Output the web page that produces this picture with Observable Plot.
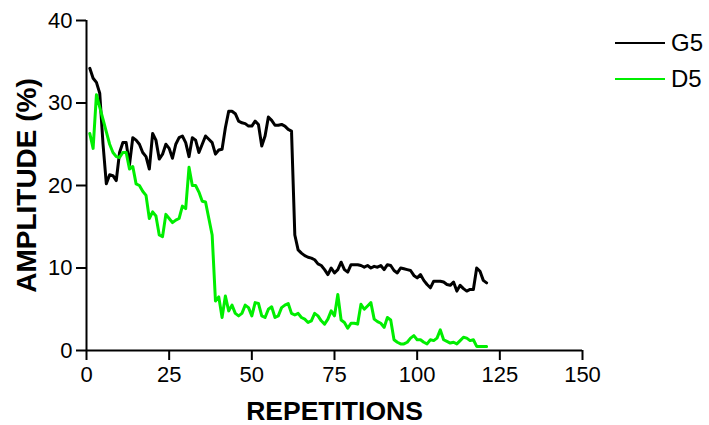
<!DOCTYPE html>
<html>
<head>
<meta charset="utf-8">
<script src="https://cdn.jsdelivr.net/npm/d3@7"></script>
<script src="https://cdn.jsdelivr.net/npm/@observablehq/plot@0.6"></script>
<style>
  html, body { margin: 0; padding: 0; background: #fff; }
  #wrap { position: relative; width: 709px; height: 425px; font-family: "Liberation Sans", Arial, sans-serif; }
  #wrap svg text { font-family: "Liberation Sans", Arial, sans-serif; }
  g[aria-label="y-axis label"] text { font-weight: bold; font-size: 28px; }
  g[aria-label="x-axis label"] text { font-weight: bold; font-size: 26.5px; }
  #legend { position: absolute; left: 615px; top: 25px; font-size: 24px; color: #000; }
  #legend .row { display: flex; align-items: center; height: 36px; }
  #legend .sw { width: 50px; height: 2.5px; margin-right: 6px; }
</style>
</head>
<body>
<div id="wrap"></div>
<script>
const seriesNames = ["G5", "D5"];
const seriesColors = ["#000000", "#00ee00"];
const xTicks = [0, 25, 50, 75, 100, 125, 150];
const yTicks = [0, 10, 20, 30, 40];

const g5 = [34.2,33.0,32.5,31.2,25.0,20.2,21.3,21.2,20.6,24.0,25.2,25.2,22.5,25.8,25.5,25.0,24.0,23.5,22.0,26.3,
  25.5,23.2,23.8,25.0,24.5,23.3,25.0,25.8,26.0,25.2,23.5,25.8,25.5,24.0,25.0,26.0,25.6,25.2,23.8,24.3,
  24.4,27.0,29.0,29.0,28.7,27.8,27.6,27.5,27.2,27.2,27.8,27.4,24.8,26.0,28.3,27.9,27.3,27.3,27.4,27.2,
  26.8,26.6,14.0,12.2,11.8,11.5,11.3,11.2,11.0,10.5,10.3,9.8,9.2,10.0,9.4,9.8,10.7,9.8,9.5,10.4,
  10.4,10.4,10.3,10.1,10.3,10.0,10.2,10.1,10.3,9.8,10.4,10.3,9.7,9.4,10.0,9.9,9.8,9.7,9.1,8.8,
  9.2,8.5,8.0,7.6,8.4,8.4,8.4,8.3,8.0,7.9,8.3,7.2,7.9,7.5,7.2,7.4,7.4,10.0,9.6,8.5,8.2];

const d5 = [26.3,24.5,31.0,29.5,28.0,26.5,25.0,24.0,23.5,23.4,24.0,24.0,22.0,22.3,20.2,20.0,19.3,18.8,16.0,16.8,
  16.3,14.0,13.8,16.5,16.0,15.5,15.8,16.0,17.5,17.2,22.2,20.0,20.0,19.2,18.1,18.0,16.0,14.0,6.0,6.5,
  4.0,6.6,4.8,5.5,4.5,4.2,4.5,5.5,5.2,4.2,5.8,5.7,4.2,4.0,5.0,5.3,4.0,4.2,5.2,5.5,
  5.7,4.5,4.3,4.5,4.0,3.8,3.4,3.6,4.5,4.2,3.6,3.2,3.8,4.8,4.2,6.8,3.7,3.4,2.7,3.3,
  3.3,3.2,5.6,5.0,5.4,5.8,3.8,3.5,3.3,2.8,4.0,3.7,1.3,1.0,0.8,0.8,1.0,1.5,1.8,1.3,
  1.3,1.0,0.8,1.3,1.2,1.5,2.5,1.3,1.1,0.9,1.0,0.8,1.2,1.6,1.5,1.2,1.3,0.5,0.5,0.5,0.5];

const rows = [];
g5.forEach((v, i) => rows.push({rep: i + 1, amp: v, series: "G5"}));
d5.forEach((v, i) => rows.push({rep: i + 1, amp: v, series: "D5"}));

const chart = Plot.plot({
  width: 709,
  height: 425,
  marginLeft: 86,
  marginRight: 127,
  marginTop: 20,
  marginBottom: 75,
  style: {fontFamily: "Liberation Sans, Arial, sans-serif", fontSize: "22px", color: "#000", background: "#fff"},
  x: {domain: [0, 150]},
  y: {domain: [0, 40]},
  color: {domain: seriesNames, range: seriesColors},
  marks: [
    Plot.axisX({ticks: xTicks, tickSize: 10, tickPadding: 6, label: "REPETITIONS", labelAnchor: "center", labelArrow: "none", labelOffset: 69, stroke: "#000", strokeWidth: 2}),
    Plot.axisY({ticks: yTicks, tickSize: 10, tickPadding: 4, label: "AMPLITUDE (%)", labelAnchor: "center", labelArrow: "none", labelOffset: 70, stroke: "#000", strokeWidth: 2}),
    Plot.ruleX([0], {stroke: "#000", strokeWidth: 2}),
    Plot.ruleY([0], {stroke: "#000", strokeWidth: 2}),
    Plot.line(rows, {x: "rep", y: "amp", z: "series", stroke: "series", strokeWidth: 3, strokeLinejoin: "round"})
  ]
});

const wrap = document.getElementById("wrap");
wrap.appendChild(chart);

const legend = document.createElement("div");
legend.id = "legend";
seriesNames.forEach((name, i) => {
  const row = document.createElement("div");
  row.className = "row";
  const sw = document.createElement("div");
  sw.className = "sw";
  sw.style.background = seriesColors[i];
  const lab = document.createElement("span");
  lab.textContent = name;
  row.appendChild(sw);
  row.appendChild(lab);
  legend.appendChild(row);
});
wrap.appendChild(legend);
</script>
</body>
</html>
